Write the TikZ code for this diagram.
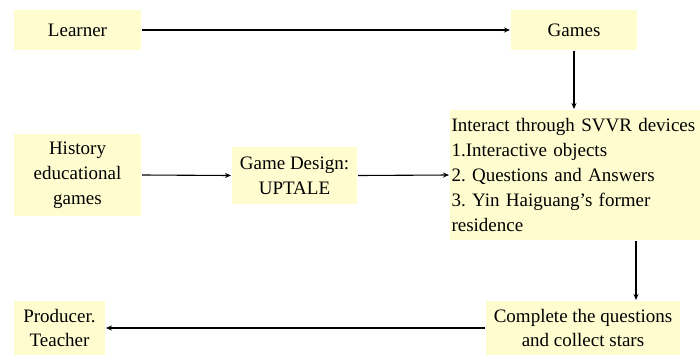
\documentclass[tikz,border=0pt]{standalone}
\usepackage{fontspec}
\setmainfont{Liberation Serif}
\usetikzlibrary{arrows.meta}
\definecolor{bg1}{RGB}{255,253,208}

\begin{document}
\frenchspacing
\begin{tikzpicture} [
    x=1pt, y=-1pt,
    f/.style={draw=black,line width=1.1pt,-{Stealth[length=6pt,width=5pt]}},
    box/.style={
        fill=bg1,
        inner sep=0pt,
        outer sep=1pt,
        align=center,
        font=\fontsize{19}{24.8}\selectfont
    }
]
\useasboundingbox (0,0) rectangle (700,356);

\node [box,minimum width=127pt,minimum height=40pt] (learner) at (77.5,30) {Learner};
\node [box,minimum width=126pt,minimum height=40pt] (games) at (574,30) {Games};
\node [box,minimum width=127pt,minimum height=82pt] (hist) at (77.5,175)
    {History\\educational\\games};
\node [box,minimum width=125pt,minimum height=57pt] (design) at (294.5,175.5)
    {Game Design:\\UPTALE};
\node [box,minimum width=250pt,minimum height=130pt,text width=247pt,align=left] (inter) at (575,175)
    {Interact through SVVR devices\\1.Interactive objects\\2. Questions and Answers\\3. Yin Haiguang's former\\residence};
\node [box,minimum width=194pt,minimum height=54pt] (done) at (583,328)
    {Complete the questions\\and collect stars};
\node [box,minimum width=91pt,minimum height=54pt] (prod) at (59.5,328)
    {Producer.\\Teacher};

\draw [f] (learner.east) -- (games.west);
\draw [f] (games.south) -- (games.south |- inter.north);
\draw [f] (hist.east) -- (design.west);
\draw [f] (design.east) -- (inter.west);
\draw [f] ([xshift=61pt]inter.south) -- ([xshift=53pt]done.north);
\draw [f] (done.west) -- (prod.east);

\end{tikzpicture}
\end{document}
